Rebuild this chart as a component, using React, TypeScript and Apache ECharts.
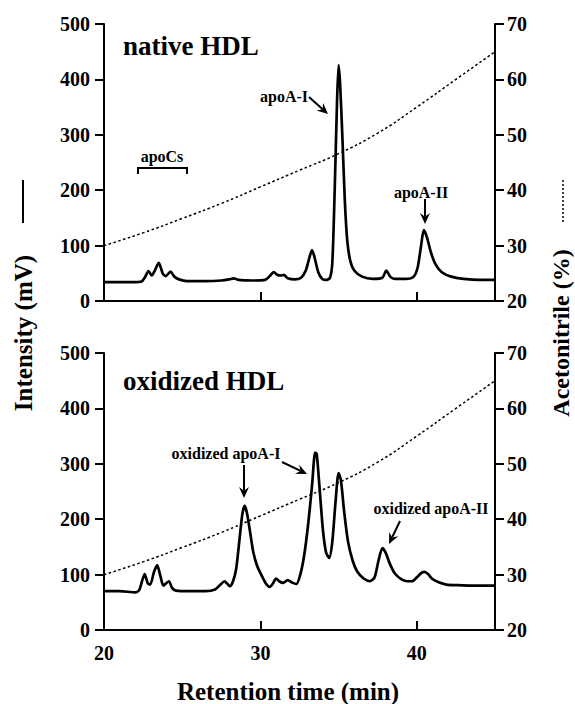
import React, { useEffect, useRef } from "react";
import * as echarts from "echarts";

// ---- data ----
const timeTicks = [20, 30, 40];

const nativeTime = [20.0, 21.0, 22.0, 22.4, 22.6, 22.85, 23.05, 23.25, 23.5, 23.75, 23.95, 24.25, 24.5, 24.8, 25.3, 26.5, 27.5, 28.0, 28.3, 28.6, 29.5, 30.3, 30.6, 30.85, 31.1, 31.3, 31.5, 31.75, 32.2, 32.6, 32.9, 33.15, 33.3, 33.45, 33.7, 33.95, 34.2, 34.45, 34.6, 34.75, 34.9, 35.0, 35.1, 35.25, 35.4, 35.55, 35.75, 36.0, 36.5, 37.2, 37.8, 38.05, 38.3, 38.6, 39.3, 39.8, 40.05, 40.25, 40.45, 40.65, 40.9, 41.2, 41.6, 42.2, 43.0, 44.0, 45.0];
const nativeIntensity = [34, 34, 34, 35, 42, 54, 46, 55, 69, 50, 45, 53, 44, 39, 36, 36, 37, 39, 41, 38, 37, 38, 45, 52, 47, 46, 47, 41, 39, 42, 55, 80, 92, 80, 52, 40, 38, 42, 70, 200, 360, 426, 390, 290, 180, 110, 72, 55, 44, 40, 42, 55, 44, 40, 40, 44, 60, 95, 128, 115, 88, 66, 52, 44, 40, 38, 38];

const oxidizedTime = [20.0, 21.0, 22.0, 22.25, 22.45, 22.6, 22.8, 22.95, 23.2, 23.4, 23.6, 23.8, 24.0, 24.15, 24.35, 24.6, 25.5, 26.5, 27.1, 27.45, 27.7, 27.9, 28.05, 28.25, 28.45, 28.65, 28.85, 29.0, 29.15, 29.35, 29.55, 29.8, 30.05, 30.35, 30.6, 30.8, 31.0, 31.2, 31.45, 31.75, 32.0, 32.3, 32.55, 32.8, 33.05, 33.3, 33.5, 33.6, 33.8, 34.0, 34.2, 34.4, 34.6, 34.8, 35.0, 35.15, 35.35, 35.6, 35.9, 36.2, 36.6, 37.0, 37.3, 37.55, 37.8, 38.0, 38.3, 38.6, 39.0, 39.4, 39.7, 40.0, 40.3, 40.5, 40.75, 41.0, 41.4, 41.9, 42.5, 43.5, 45.0];
const oxidizedIntensity = [70, 70, 68, 72, 90, 101, 84, 82, 105, 117, 98, 80, 85, 88, 76, 71, 70, 70, 73, 82, 88, 83, 79, 88, 110, 160, 210, 224, 210, 175, 140, 115, 100, 84, 78, 84, 93, 88, 85, 90, 86, 83, 100, 135, 190, 260, 320, 318, 250, 180, 140, 130, 160, 230, 283, 270, 215, 160, 125, 105, 93, 88, 95, 125, 148, 140, 118, 102, 92, 88, 88, 95, 103, 105, 100, 92, 86, 82, 81, 80, 80];

const gradientTime = [20, 22.5, 25, 27.5, 30, 32.5, 35, 37.5, 40, 42.5, 45];
const gradientAcetonitrile = [30, 32.3, 34.9, 37.6, 40.6, 43.6, 46.6, 50.3, 55, 60, 65];

const intensityTicks = [0, 100, 200, 300, 400, 500];
const acetonitrileTicks = [20, 30, 40, 50, 60, 70];

const FONT = '"Liberation Serif", "Times New Roman", serif';

function pairs(xs: number[], ys: number[]) {
  return xs.map((x, i) => [x, ys[i]]);
}

function arrow(x1: number, y1: number, x2: number, y2: number, head = 11, half = 5) {
  const dx = x2 - x1, dy = y2 - y1;
  const L = Math.hypot(dx, dy);
  const ux = dx / L, uy = dy / L;
  const px = -uy, py = ux;
  const bx = x2 - ux * head, by = y2 - uy * head;
  const nx = x2 - ux * head * 0.65, ny = y2 - uy * head * 0.65;
  return [
    { type: "line", shape: { x1, y1, x2: nx, y2: ny }, style: { stroke: "#000", lineWidth: 2 } },
    {
      type: "polygon",
      shape: { points: [[x2, y2], [bx + px * half, by + py * half], [nx, ny], [bx - px * half, by - py * half]] },
      style: { fill: "#000" },
    },
  ];
}

function label(text: string, x: number, y: number, size: number, align = "left", rotation = 0) {
  return {
    type: "text",
    x,
    y,
    rotation,
    style: {
      text,
      font: `bold ${size}px ${FONT}`,
      fill: "#000",
      align,
      verticalAlign: "middle",
    },
  };
}

function xAxisCfg(gridIndex: number, showLabels: boolean) {
  return {
    type: "value",
    gridIndex,
    min: timeTicks[0],
    max: 45,
    interval: timeTicks[1] - timeTicks[0],
    axisLine: { show: true, lineStyle: { color: "#000", width: 2 } },
    axisTick: { show: true, inside: true, length: 9, lineStyle: { color: "#000", width: 2 } },
    axisLabel: {
      show: showLabels,
      showMaxLabel: false,
      color: "#000",
      fontFamily: FONT,
      fontWeight: "bold",
      fontSize: 20,
      margin: 13,
    },
    splitLine: { show: false },
  };
}

function yAxisCfg(gridIndex: number, right: boolean) {
  const ticks = right ? acetonitrileTicks : intensityTicks;
  return {
    type: "value",
    gridIndex,
    position: right ? "right" : "left",
    min: ticks[0],
    max: ticks[ticks.length - 1],
    interval: ticks[1] - ticks[0],
    axisLine: { show: true, onZero: false, lineStyle: { color: "#000", width: 2 } },
    axisTick: { show: true, inside: false, length: 9, lineStyle: { color: "#000", width: 2 } },
    axisLabel: {
      color: "#000",
      fontFamily: FONT,
      fontWeight: "bold",
      fontSize: 20,
      margin: right ? 12 : 14,
    },
    splitLine: { show: false },
  };
}

export default function App() {
  const ref = useRef<HTMLDivElement>(null);

  useEffect(() => {
    if (!ref.current) return;
    const chart = echarts.init(ref.current, undefined, { renderer: "svg" });

    const graphics: any[] = [
      label("native HDL", 123, 46, 27),
      label("oxidized HDL", 123, 381, 27),
      label("apoCs", 162, 156, 16, "center"),
      { type: "polyline", shape: { points: [[138, 174], [138, 168], [187, 168], [187, 174]] }, style: { stroke: "#000", lineWidth: 2, fill: null } },
      label("apoA-I", 308, 96, 16, "right"),
      ...arrow(309, 97, 328, 114),
      label("apoA-II", 421, 192, 16, "center"),
      ...arrow(425, 199, 425, 224),
      label("oxidized apoA-I", 226, 453, 16, "center"),
      ...arrow(244, 465, 244, 498),
      ...arrow(282, 462, 307, 474),
      label("oxidized apoA-II", 431, 508, 16, "center"),
      ...arrow(400, 521, 389, 544),
      label("Intensity (mV)", 23, 333, 25, "center", Math.PI / 2),
      { type: "line", shape: { x1: 23, y1: 180, x2: 23, y2: 223 }, style: { stroke: "#000", lineWidth: 2 } },
      label("Acetonitrile (%)", 561, 333, 24, "center", Math.PI / 2),
      { type: "line", shape: { x1: 563, y1: 180, x2: 563, y2: 223 }, style: { stroke: "#000", lineWidth: 1.5, lineDash: [2, 2] } },
      label("Retention time (min)", 288, 691, 25, "center"),
    ];

    const solid = { color: "#000", width: 2.7 };
    const dotted = { color: "#000", width: 1.5, type: [2.5, 2.5] };

    chart.setOption({
      animation: false,
      backgroundColor: "#fff",
      textStyle: { fontFamily: FONT },
      grid: [
        { left: 104, top: 24, width: 391, height: 277 },
        { left: 104, top: 353, width: 391, height: 277 },
      ],
      xAxis: [xAxisCfg(0, false), xAxisCfg(1, true)],
      yAxis: [yAxisCfg(0, false), yAxisCfg(0, true), yAxisCfg(1, false), yAxisCfg(1, true)],
      series: [
        { type: "line", name: "native HDL", xAxisIndex: 0, yAxisIndex: 0, data: pairs(nativeTime, nativeIntensity), showSymbol: false, smooth: 0.25, lineStyle: solid },
        { type: "line", name: "gradient native", xAxisIndex: 0, yAxisIndex: 1, data: pairs(gradientTime, gradientAcetonitrile), showSymbol: false, smooth: true, lineStyle: dotted },
        { type: "line", name: "oxidized HDL", xAxisIndex: 1, yAxisIndex: 2, data: pairs(oxidizedTime, oxidizedIntensity), showSymbol: false, smooth: 0.25, lineStyle: solid },
        { type: "line", name: "gradient oxidized", xAxisIndex: 1, yAxisIndex: 3, data: pairs(gradientTime, gradientAcetonitrile), showSymbol: false, smooth: true, lineStyle: dotted },
      ],
      graphic: graphics,
    });

    return () => chart.dispose();
  }, []);

  return <div ref={ref} style={{ position: "fixed", left: 0, top: 0, width: 575, height: 704 }} />;
}
